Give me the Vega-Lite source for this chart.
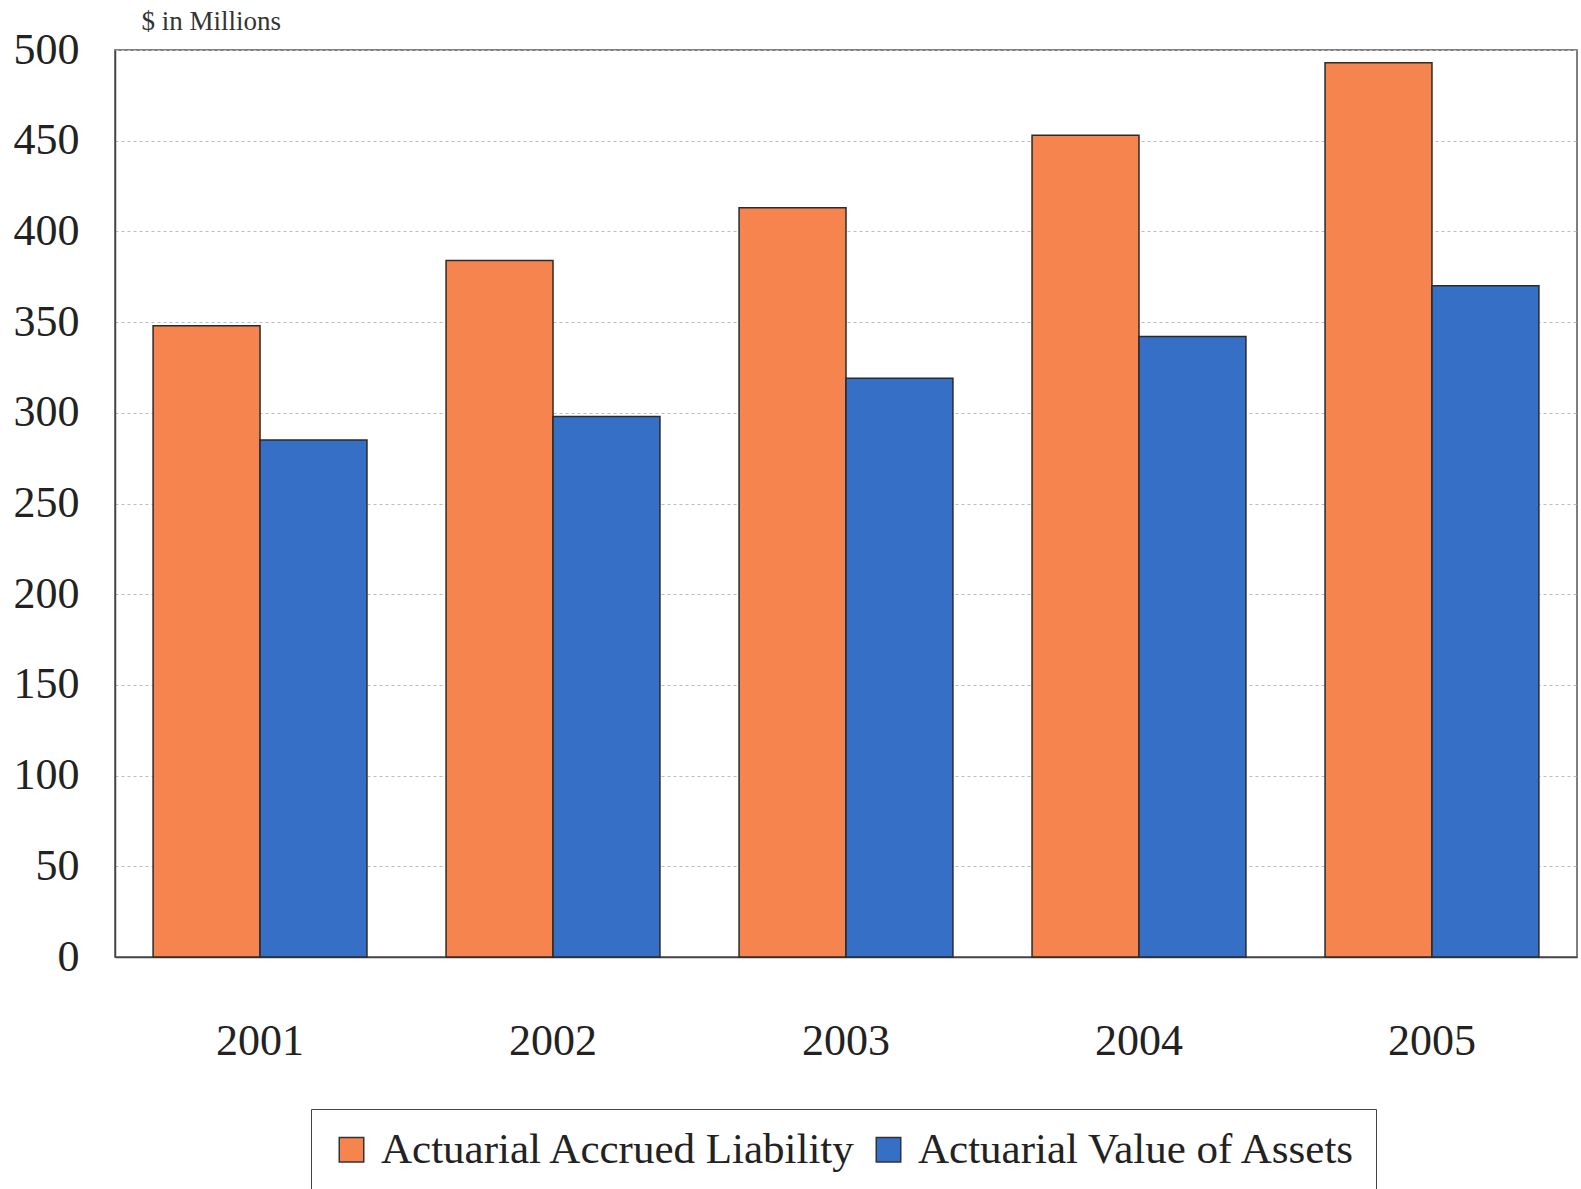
{
  "$schema": "https://vega.github.io/schema/vega-lite/v6.json",
  "width": 1462,
  "height": 907,
  "autosize": {"type": "none"},
  "padding": {"left": 115, "top": 50, "right": 4, "bottom": 232},
  "background": "#ffffff",
  "data": {
    "values": [
      {"year": "2001", "series": "Actuarial Accrued Liability", "value": 348},
      {"year": "2001", "series": "Actuarial Value of Assets", "value": 285},
      {"year": "2002", "series": "Actuarial Accrued Liability", "value": 384},
      {"year": "2002", "series": "Actuarial Value of Assets", "value": 298},
      {"year": "2003", "series": "Actuarial Accrued Liability", "value": 413},
      {"year": "2003", "series": "Actuarial Value of Assets", "value": 319},
      {"year": "2004", "series": "Actuarial Accrued Liability", "value": 453},
      {"year": "2004", "series": "Actuarial Value of Assets", "value": 342},
      {"year": "2005", "series": "Actuarial Accrued Liability", "value": 493},
      {"year": "2005", "series": "Actuarial Value of Assets", "value": 370}
    ]
  },
  "mark": {"type": "bar", "stroke": "#2a2a2a", "strokeWidth": 1.5},
  "encoding": {
    "x": {
      "field": "year",
      "type": "nominal",
      "scale": {"paddingInner": 0.27, "paddingOuter": 0.13},
      "axis": {
        "title": null,
        "labelAngle": 0,
        "labelFont": "Liberation Serif",
        "labelFontSize": 44,
        "labelColor": "#222222",
        "labelPadding": 62,
        "ticks": false,
        "domainColor": "#444444",
        "domainWidth": 1.5
      }
    },
    "xOffset": {"field": "series", "type": "nominal", "sort": ["Actuarial Accrued Liability", "Actuarial Value of Assets"]},
    "y": {
      "field": "value",
      "type": "quantitative",
      "scale": {"domain": [0, 500], "nice": false},
      "axis": {
        "values": [0, 50, 100, 150, 200, 250, 300, 350, 400, 450, 500],
        "title": "$ in Millions",
        "titleAngle": 0,
        "titleAlign": "left",
        "titleBaseline": "alphabetic",
        "titleX": 26,
        "titleY": -21,
        "titleFont": "Liberation Serif",
        "titleFontSize": 27,
        "titleFontWeight": "normal",
        "titleColor": "#333333",
        "labelFont": "Liberation Serif",
        "labelFontSize": 44,
        "labelColor": "#222222",
        "labelPadding": 36,
        "ticks": false,
        "domainColor": "#444444",
        "domainWidth": 1.5,
        "grid": true,
        "gridColor": "#bdbdbd",
        "gridDash": [3, 3],
        "gridWidth": 1.2
      }
    },
    "color": {
      "field": "series",
      "type": "nominal",
      "sort": ["Actuarial Accrued Liability", "Actuarial Value of Assets"],
      "scale": {"range": ["#f5844f", "#3670c6"]},
      "legend": {
        "title": null,
        "orient": "none",
        "legendX": 196,
        "legendY": 1059,
        "direction": "horizontal",
        "labelFont": "Liberation Serif",
        "labelFontSize": 43,
        "labelColor": "#222222",
        "labelLimit": 700,
        "labelOffset": 8,
        "symbolType": "square",
        "symbolSize": 600,
        "symbolStrokeColor": "#333333",
        "symbolStrokeWidth": 1.5,
        "symbolOpacity": 1,
        "columnPadding": 10,
        "padding": 19,
        "strokeColor": "#444444",
        "fillColor": "#ffffff"
      }
    }
  },
  "config": {
    "view": {"stroke": "#555555", "strokeWidth": 1.5}
  }
}
